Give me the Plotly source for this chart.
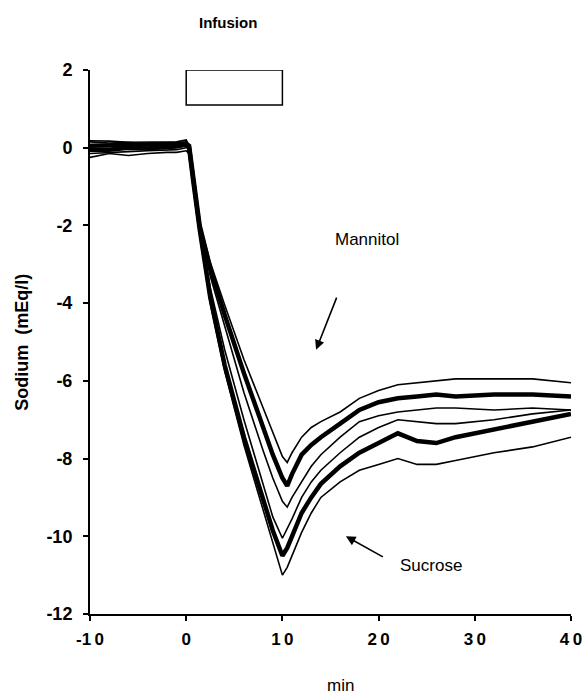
import plotly.graph_objects as go

# ---- data ----
time_min = [-10, -8, -6, -4, -2, -1, 0, 0.3, 0.7, 1.0, 1.4, 2.5, 4, 6, 8, 9, 10, 10.5,
            11, 12, 13, 14, 16, 18, 20, 22, 24, 26, 28, 32, 36, 40]

sucrose_lower = [-0.25, -0.15, -0.2, -0.15, -0.12, -0.12, -0.08, -0.15, -0.9, -1.5, -2.25, -4.0, -5.75, -7.65, -9.3, -10.15, -11.0, -10.8,
                 -10.5, -9.9, -9.4, -9.0, -8.6, -8.3, -8.15, -8.0, -8.15, -8.15, -8.05, -7.85, -7.7, -7.45]
sucrose_mean = [-0.05, -0.05, 0.0, -0.02, 0.02, 0.03, 0.08, 0.0, -0.8, -1.4, -2.1, -3.85, -5.6, -7.45, -9.1, -9.85, -10.5, -10.3,
                -10.0, -9.4, -9.0, -8.65, -8.2, -7.85, -7.6, -7.35, -7.55, -7.6, -7.45, -7.25, -7.05, -6.85]
sucrose_upper = [0.15, 0.12, 0.14, 0.1, 0.12, 0.12, 0.15, 0.0, -0.75, -1.35, -2.05, -3.6, -5.2, -7.0, -8.7, -9.5, -10.05, -9.8,
                 -9.55, -9.0, -8.6, -8.3, -7.85, -7.45, -7.2, -7.0, -7.05, -7.1, -7.1, -7.0, -6.85, -6.75]
mannitol_lower = [-0.15, -0.12, -0.1, -0.08, -0.06, -0.05, 0.0, 0.0, -0.7, -1.3, -2.0, -3.3, -4.6, -6.3, -7.8, -8.5, -9.1, -9.25,
                  -9.0, -8.6, -8.2, -7.9, -7.45, -7.05, -6.9, -6.8, -6.75, -6.7, -6.7, -6.75, -6.7, -6.75]
mannitol_mean = [0.05, 0.06, 0.05, 0.06, 0.08, 0.08, 0.1, 0.05, -0.7, -1.3, -2.0, -3.1, -4.3, -5.8, -7.2, -7.9, -8.5, -8.7,
                 -8.4, -7.9, -7.65, -7.45, -7.1, -6.75, -6.55, -6.45, -6.4, -6.35, -6.4, -6.35, -6.35, -6.4]
mannitol_upper = [0.18, 0.17, 0.14, 0.15, 0.15, 0.15, 0.2, 0.05, -0.65, -1.25, -1.95, -2.95, -4.05, -5.45, -6.7, -7.35, -7.95, -8.1,
                  -7.85, -7.45, -7.2, -7.05, -6.8, -6.45, -6.25, -6.1, -6.05, -6.0, -5.95, -5.95, -5.95, -6.05]

x_ticks = [-10, 0, 10, 20, 30, 40]
x_tick_labels = ["-1\u20090", "0", "1\u20090", "2\u20090", "3\u20090", "4\u20090"]
y_ticks = [2, 0, -2, -4, -6, -8, -10, -12]
y_tick_labels = ["2", "0", "-2", "-4", "-6", "-8", "-10", "-12"]

infusion_start, infusion_end = 0, 10
infusion_bar_low, infusion_bar_high = 1.1, 2.0

FONT = "Liberation Sans"

fig = go.Figure()
series = [
    (sucrose_lower, 1.6), (sucrose_upper, 1.6), (mannitol_lower, 1.6), (mannitol_upper, 1.6),
    (sucrose_mean, 4.5), (mannitol_mean, 4.5),
]
for vals, w in series:
    fig.add_trace(go.Scatter(x=time_min, y=vals, mode="lines",
                             line=dict(color="black", width=w), showlegend=False,
                             hoverinfo="skip"))

fig.add_shape(type="rect", xref="x", yref="y", x0=infusion_start, x1=infusion_end,
              y0=infusion_bar_low, y1=infusion_bar_high, line=dict(color="black", width=1.5),
              fillcolor="white")

annotations = [
    dict(text="Infusion", x=0.287, y=1.088, xref="paper", yref="paper", showarrow=False,
         xanchor="center", yanchor="middle",
         font=dict(family=FONT, size=15, color="black", weight="bold")),
    dict(text="Mannitol", x=18.8, y=-2.37, xref="x", yref="y", showarrow=False,
         font=dict(family=FONT, size=17, color="black")),
    dict(text="Sucrose", x=25.4, y=-10.76, xref="x", yref="y", showarrow=False,
         font=dict(family=FONT, size=17, color="black")),
    dict(text="", x=13.5, y=-5.2, ax=15.7, ay=-3.82, xref="x", yref="y", axref="x", ayref="y",
         showarrow=True, arrowhead=2, arrowsize=1.2, arrowwidth=1.6, arrowcolor="black"),
    dict(text="", x=16.6, y=-10.0, ax=20.6, ay=-10.55, xref="x", yref="y", axref="x", ayref="y",
         showarrow=True, arrowhead=2, arrowsize=1.2, arrowwidth=1.6, arrowcolor="black"),
    dict(text="min", x=0.52, y=-0.131, xref="paper", yref="paper", showarrow=False,
         xanchor="center", yanchor="middle",
         font=dict(family=FONT, size=17, color="black")),
    dict(text="Sodium  (mEq/l)", x=-0.142, y=0.5, xref="paper", yref="paper",
         xanchor="center", yanchor="middle",
         showarrow=False, textangle=-90,
         font=dict(family=FONT, size=18, color="black", weight="bold")),
]
fig.update_layout(annotations=annotations)

fig.update_layout(
    width=585, height=696,
    margin=dict(l=90, r=14, t=70, b=82),
    paper_bgcolor="white", plot_bgcolor="white",
    showlegend=False,
    font=dict(family=FONT, color="black"),
    xaxis=dict(range=[-10, 40], tickvals=x_ticks, ticktext=x_tick_labels, automargin=False,
               showgrid=False, zeroline=False, showline=True, linecolor="black", linewidth=2,
               ticks="outside", ticklen=5, tickwidth=2, tickcolor="black",
               ticklabelstandoff=4,
               tickfont=dict(family=FONT, size=17, color="black", weight="bold")),
    yaxis=dict(range=[-12, 2], tickvals=y_ticks, ticktext=y_tick_labels, automargin=False,
               showgrid=False, zeroline=False, showline=True, linecolor="black", linewidth=2,
               ticks="outside", ticklen=5, tickwidth=2, tickcolor="black",
               ticklabelstandoff=7,
               tickfont=dict(family=FONT, size=18, color="black", weight="bold")),
)

fig.write_html("out.html", config={"displayModeBar": False},
               post_script="document.body.style.margin='0';document.body.style.overflow='hidden';")
